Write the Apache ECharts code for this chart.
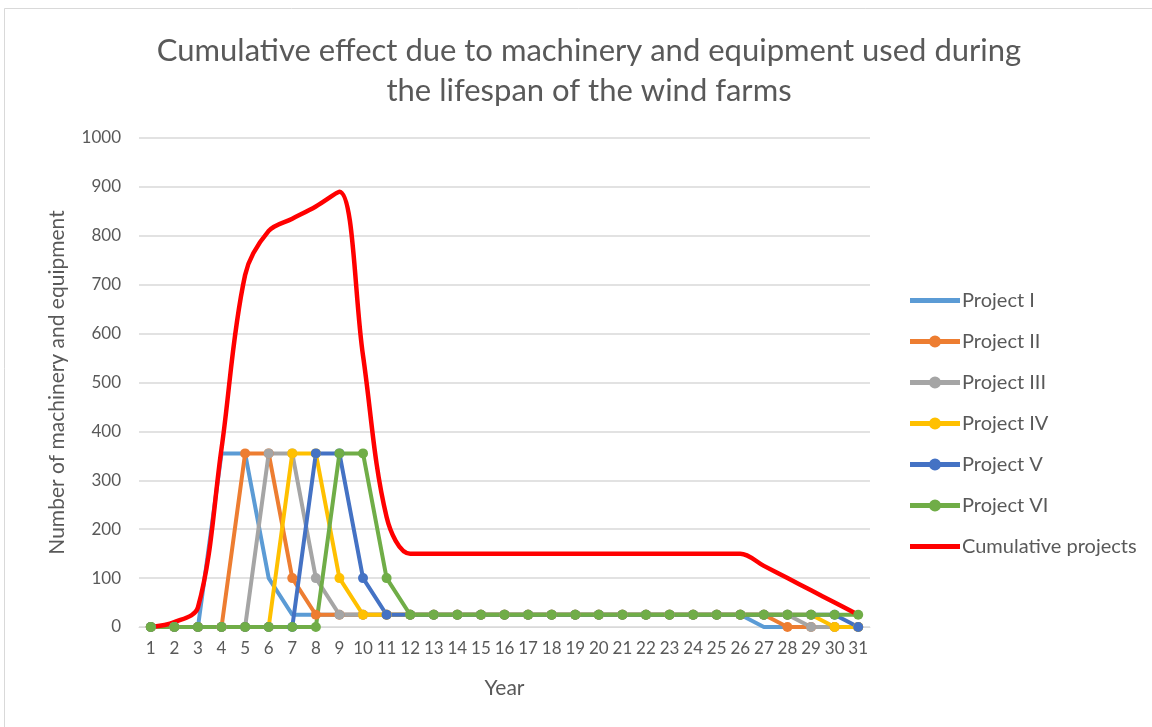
<!DOCTYPE html>
<html>
<head>
<meta charset="utf-8">
<script src="https://cdn.jsdelivr.net/npm/echarts@6/dist/echarts.min.js"></script>
<style>
  html, body { margin: 0; padding: 0; background: #ffffff; }
  #chart { width: 1152px; height: 727px; }
</style>
</head>
<body>
<div id="chart"></div>
<script>
// Years of operation along the x axis
const years = ['1','2','3','4','5','6','7','8','9','10','11','12','13','14','15','16',
  '17','18','19','20','21','22','23','24','25','26','27','28','29','30','31'];

// Machinery and equipment in use per project, by year
const projectI   = [0,0,0,355,355,100,25,25,25,25,25,25,25,25,25,25,25,25,25,25,25,25,25,25,25,25,0,0,0,0,0];
const projectII  = [0,0,0,0,355,355,100,25,25,25,25,25,25,25,25,25,25,25,25,25,25,25,25,25,25,25,25,0,0,0,0];
const projectIII = [0,0,0,0,0,355,355,100,25,25,25,25,25,25,25,25,25,25,25,25,25,25,25,25,25,25,25,25,0,0,0];
const projectIV  = [0,0,0,0,0,0,355,355,100,25,25,25,25,25,25,25,25,25,25,25,25,25,25,25,25,25,25,25,25,0,0];
const projectV   = [0,0,0,0,0,0,0,355,355,100,25,25,25,25,25,25,25,25,25,25,25,25,25,25,25,25,25,25,25,25,0];
const projectVI  = [0,0,0,0,0,0,0,0,355,355,100,25,25,25,25,25,25,25,25,25,25,25,25,25,25,25,25,25,25,25,25];

// All projects together
const cumulative = [0,10,40,365,720,810,835,860,890,555,225,150,150,150,150,150,150,150,150,150,150,150,150,150,150,150,125,100,75,50,25];

const FONT = 'Lato, "Open Sans", sans-serif';
const TEXT = '#595959';

// Legend glyphs: a thick line, with or without a round marker in the middle
const ICON_MARKER = 'path://M0,3.5 L50,3.5 L50,8.5 L0,8.5 Z M19,6 A6,6 0 1 1 31,6 A6,6 0 1 1 19,6 Z';
const ICON_LINE = 'path://M0,3.5 L50,3.5 L50,8.5 L0,8.5 Z M25,0 L25.01,0 L25.01,0.01 Z M25,12 L25.01,12 L25.01,11.99 Z';

function projectSeries(name, data, color, withMarkers) {
  return {
    name: name,
    type: 'line',
    data: data,
    symbol: withMarkers ? 'circle' : 'none',
    symbolSize: 10,
    showSymbol: withMarkers,
    lineStyle: { width: 4, color: color },
    itemStyle: { color: color },
    emphasis: { disabled: true },
    animation: false
  };
}

const chart = echarts.init(document.getElementById('chart'), null, { renderer: 'canvas' });

chart.setOption({
  backgroundColor: '#ffffff',
  animation: false,
  textStyle: { fontFamily: FONT },
  title: {
    text: 'Cumulative effect due to machinery and equipment used during\nthe lifespan of the wind farms',
    left: 584,
    textAlign: 'center',
    top: 26,
    textStyle: {
      fontFamily: FONT,
      fontSize: 31,
      fontWeight: 'normal',
      color: TEXT,
      lineHeight: 40
    }
  },
  grid: {
    left: 139,
    right: 282,
    top: 138,
    bottom: 100,
    containLabel: false
  },
  legend: {
    orient: 'vertical',
    left: 905,
    top: 284,
    itemWidth: 50,
    itemHeight: 12,
    itemGap: 18,
    textStyle: { fontFamily: FONT, fontSize: 20, lineHeight: 23, color: TEXT, padding: [0, 0, 0, -3] },
    data: [
      { name: 'Project I', icon: ICON_LINE },
      { name: 'Project II', icon: ICON_MARKER },
      { name: 'Project III', icon: ICON_MARKER },
      { name: 'Project IV', icon: ICON_MARKER },
      { name: 'Project V', icon: ICON_MARKER },
      { name: 'Project VI', icon: ICON_MARKER },
      { name: 'Cumulative projects', icon: ICON_LINE }
    ]
  },
  xAxis: {
    type: 'category',
    data: years,
    boundaryGap: true,
    name: 'Year',
    nameLocation: 'middle',
    nameGap: 51,
    nameTextStyle: { fontFamily: FONT, fontSize: 21, color: TEXT },
    axisLine: { show: true, lineStyle: { color: '#d9d9d9', width: 1 } },
    axisTick: { show: false },
    axisLabel: { interval: 0, fontFamily: FONT, fontSize: 17, color: TEXT, margin: 13 },
    splitLine: { show: false }
  },
  yAxis: {
    type: 'value',
    min: 0,
    max: 1000,
    interval: 100,
    name: 'Number of machinery and equipment',
    nameLocation: 'middle',
    nameGap: 71,
    nameTextStyle: { fontFamily: FONT, fontSize: 21, color: TEXT },
    axisLine: { show: false },
    axisTick: { show: false },
    axisLabel: { fontFamily: FONT, fontSize: 17, color: TEXT, margin: 18, formatter: function (v) { return String(v); } },
    splitLine: { show: true, lineStyle: { color: '#d9d9d9', width: 1.5 } }
  },
  graphic: [{
    type: 'rect',
    shape: { x: 4.5, y: 8.5, width: 1200, height: 800 },
    style: { fill: 'none', stroke: '#d9d9d9', lineWidth: 1 },
    silent: true,
    z: -1
  }],
  series: [
    projectSeries('Project I', projectI, '#5B9BD5', false),
    projectSeries('Project II', projectII, '#ED7D31', true),
    projectSeries('Project III', projectIII, '#A5A5A5', true),
    projectSeries('Project IV', projectIV, '#FFC000', true),
    projectSeries('Project V', projectV, '#4472C4', true),
    projectSeries('Project VI', projectVI, '#70AD47', true),
    {
      name: 'Cumulative projects',
      type: 'line',
      data: cumulative,
      smooth: 0.35,
      symbol: 'none',
      showSymbol: false,
      lineStyle: { width: 4.5, color: '#FF0000' },
      itemStyle: { color: '#FF0000' },
      emphasis: { disabled: true },
      animation: false
    }
  ]
});
</script>
</body>
</html>
